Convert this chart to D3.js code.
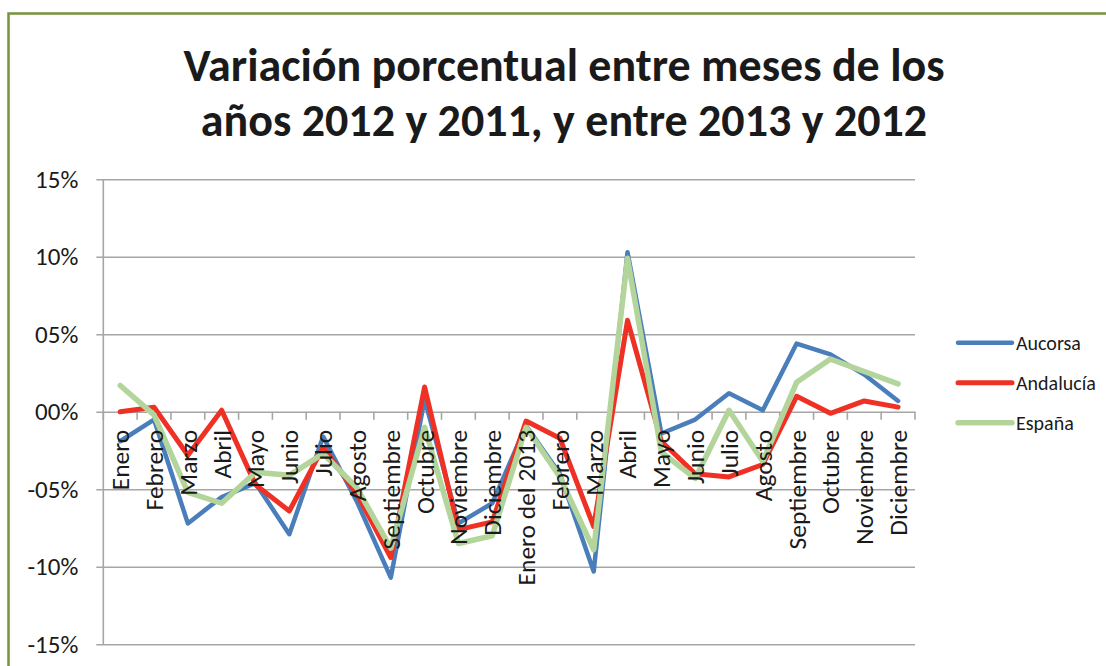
<!DOCTYPE html>
<html><head><meta charset="utf-8">
<script src="https://cdn.jsdelivr.net/npm/d3@7"></script>
<style>body{margin:0;background:#fff;} text{font-family: Carlito, Lato, sans-serif; fill:#1a1a1a;}</style>
</head><body><svg id="c" width="1106" height="666"></svg>
<script>
const categories = ["Enero","Febrero","Marzo","Abril","Mayo","Junio","Julio","Agosto","Septiembre","Octubre","Noviembre","Diciembre","Enero del 2013","Febrero","Marzo","Abril","Mayo","Junio","Julio","Agosto","Septiembre","Octubre","Noviembre","Diciembre"];
const aucorsa   = [-1.9,-0.5,-7.2,-5.5,-4.6,-7.9,-1.6,-5.8,-10.7,0.8,-7.2,-5.9,-0.9,-4.0,-10.3,10.3,-1.4,-0.5,1.2,0.1,4.4,3.7,2.4,0.7];
const andalucia = [0.0,0.3,-2.8,0.1,-4.7,-6.4,-2.3,-5.3,-9.4,1.6,-7.6,-7.1,-0.6,-1.7,-7.4,5.9,-1.9,-4.0,-4.2,-3.4,1.0,-0.1,0.7,0.3];
const espana    = [1.7,-0.2,-5.2,-5.9,-3.9,-4.1,-2.7,-4.9,-8.8,-1.0,-8.5,-8.0,-1.0,-4.2,-8.9,9.9,-2.6,-4.3,0.1,-3.2,1.9,3.4,2.6,1.8];
const yTicks = [15,10,5,0,-5,-10,-15];
const yTickLabels = ["15%","10%","05%","00%","-05%","-10%","-15%"];
const seriesNames = ["Aucorsa","Andalucía","España"];
const seriesValues = [aucorsa, andalucia, espana];
const seriesColors = ["#4A7EBB","#EE3124","#B3D59B"];
const seriesWidths = [4.5,5,5.5];
const titleLines = ["Variación porcentual entre meses de los","años 2012 y 2011, y entre 2013 y 2012"];

const svg = d3.select("#c");
const L = 103.3, R = 915, T = 179.3, B = 644.3;

// frame
svg.append("rect").attr("x",8.5).attr("y",13.5).attr("width",1120).attr("height",700)
  .attr("fill","none").attr("stroke","#77933C").attr("stroke-width",2.5);

// title
svg.append("g").selectAll("text").data(titleLines).join("text")
  .attr("x",564).attr("y",(d,i)=>81+i*55).attr("text-anchor","middle")
  .style("font-weight","bold").style("font-size","46px").text(d=>d);

const x = d3.scaleBand().domain(d3.range(categories.length)).range([L,R]);
const y = d3.scaleLinear().domain([-15,15]).range([B,T]);

// gridlines + y axis
const yAxis = d3.axisLeft(y).tickValues(yTicks).tickSize(-(R-L)).tickFormat((d,i)=>yTickLabels[i]).tickPadding(25);
const gy = svg.append("g").attr("transform",`translate(${L},0)`).call(yAxis);
gy.select(".domain").remove();
gy.selectAll(".tick line").attr("stroke","#A6A6A6").attr("stroke-width",1.6).attr("x1",-7);
gy.selectAll(".tick text").style("font-size","25px").style("font-family","Carlito, Lato, sans-serif").attr("fill","#1a1a1a");
svg.append("line").attr("x1",L).attr("x2",L).attr("y1",T).attr("y2",B).attr("stroke","#A6A6A6").attr("stroke-width",1.6);

// category axis ticks at 0
const y0 = y(0);
const boundaries = d3.range(categories.length+1).map(i => i===categories.length ? R : x(i));
svg.append("g").selectAll("line").data(boundaries).join("line")
  .attr("x1",d=>d).attr("x2",d=>d).attr("y1",y0).attr("y2",y0+8)
  .attr("stroke","#A6A6A6").attr("stroke-width",1.6);

// lines
const line = d3.line().x((d,i)=>x(i)+x.bandwidth()/2).y(d=>y(d));
svg.append("g").selectAll("path").data(seriesValues).join("path")
  .attr("d",d=>line(d)).attr("fill","none")
  .attr("stroke",(d,i)=>seriesColors[i]).attr("stroke-width",(d,i)=>seriesWidths[i])
  .attr("stroke-linejoin","round").attr("stroke-linecap","round");

// category labels (drawn above the lines)
svg.append("g").selectAll("text").data(categories).join("text")
  .attr("transform",(d,i)=>`translate(${x(i)+x.bandwidth()/2},${y0+18}) rotate(-90)`)
  .attr("text-anchor","end").attr("dy","0.35em").style("font-size","25.5px").text(d=>d);

// legend
const lg = svg.append("g").selectAll("g").data(seriesNames).join("g")
  .attr("transform",(d,i)=>`translate(958,${342.7+i*40})`);
lg.append("line").attr("x1",0).attr("x2",54).attr("stroke",(d,i)=>seriesColors[i])
  .attr("stroke-width",(d,i)=>seriesWidths[i]).attr("stroke-linecap","round");
lg.append("text").attr("x",58).attr("dy","0.35em").style("font-size","20px").text(d=>d);
</script></body></html>
